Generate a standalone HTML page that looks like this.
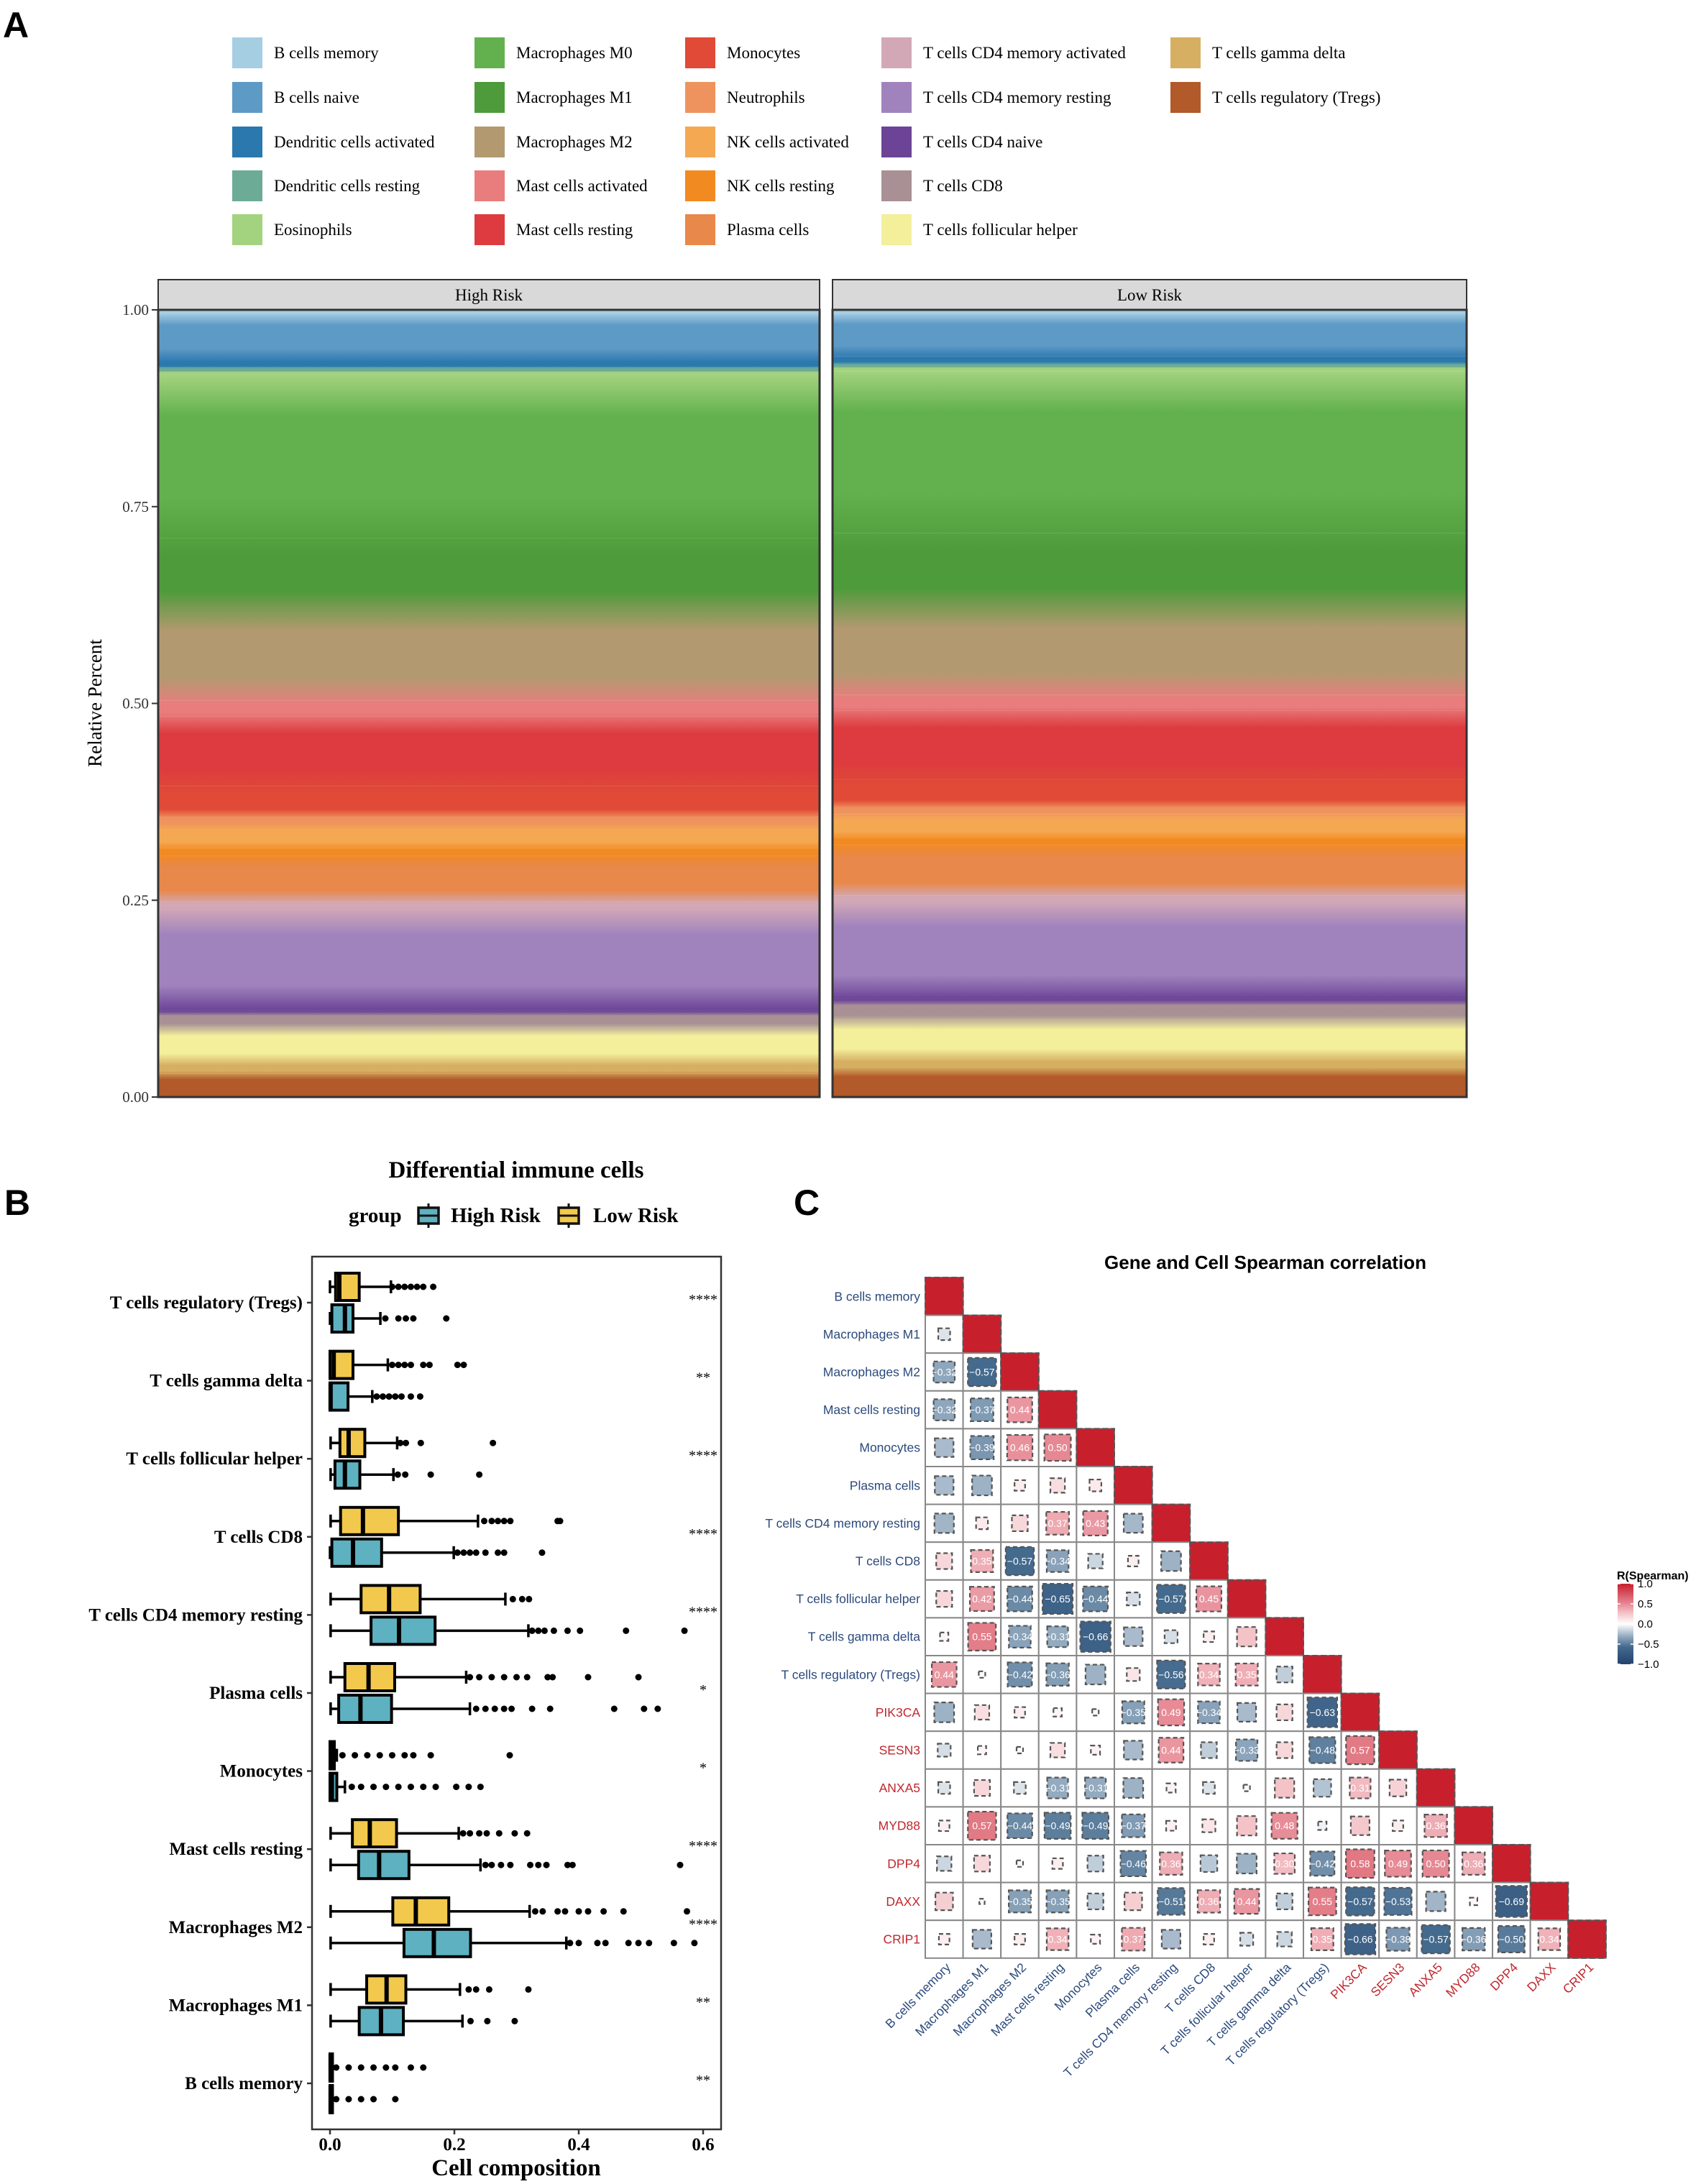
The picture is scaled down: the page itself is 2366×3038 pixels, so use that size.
<!DOCTYPE html>
<html><head><meta charset="utf-8"><style>
html,body{margin:0;padding:0;background:#fff}
svg{display:block}
.serif{font-family:"Liberation Serif",serif}
.sans{font-family:"Liberation Sans",sans-serif}
</style></head><body>
<svg id="fig" width="2366" height="3038" viewBox="0 0 2366 3038" xmlns="http://www.w3.org/2000/svg">
<defs id="gdefs"></defs>
<text x="4" y="52" class="sans" font-size="50" font-weight="bold">A</text>
<text x="6" y="1690" class="sans" font-size="50" font-weight="bold">B</text>
<text x="1104" y="1690" class="sans" font-size="50" font-weight="bold">C</text>
<g id="pa"></g>
<g id="pb"></g>
<g id="pc"></g>
</svg>
<script>
// ---------- Panel A data ----------
const cellTypes = ["B cells memory","B cells naive","Dendritic cells activated","Dendritic cells resting","Eosinophils","Macrophages M0","Macrophages M1","Macrophages M2","Mast cells activated","Mast cells resting","Monocytes","Neutrophils","NK cells activated","NK cells resting","Plasma cells","T cells CD4 memory activated","T cells CD4 memory resting","T cells CD4 naive","T cells CD8","T cells follicular helper","T cells gamma delta","T cells regulatory (Tregs)"];
const cellColors = ["#A6CEE3","#5E9AC6","#2A78AE","#6CAB96","#A4D37F","#62B14E","#4D9B3A","#B39970","#E97D7D","#DD3B3F","#E04A36","#EF935E","#F5A852","#F28A22","#E8884A","#D3A8B6","#A083BD","#6B4397","#A89095","#F3EF9B","#D7AF63","#B25A2A"];
const groups = ["High Risk","Low Risk"];
const highRiskMean = [0.005,0.06,0.01,0.005,0.005,0.21,0.09,0.12,0.02,0.09,0.04,0.01,0.03,0.01,0.06,0.01,0.13,0.002,0.02,0.045,0.015,0.03];
const lowRiskMean  = [0.005,0.055,0.01,0.005,0.005,0.21,0.095,0.115,0.02,0.09,0.035,0.01,0.03,0.01,0.065,0.01,0.125,0.002,0.025,0.05,0.015,0.035];
const yTicksA = [0,0.25,0.5,0.75,1];

// ---------- Panel B data ----------
const bCats = ["T cells regulatory (Tregs)","T cells gamma delta","T cells follicular helper","T cells CD8","T cells CD4 memory resting","Plasma cells","Monocytes","Mast cells resting","Macrophages M2","Macrophages M1","B cells memory"];
const bSig = ["****","**","****","****","****","*","*","****","****","**","**"];
// [whiskerLow, q1, median, q3, whiskerHigh]
const lowStats = [[0,.009,.015,.047,.098],[0,0,.006,.037,.093],[.001,.016,.030,.056,.108],[.001,.017,.053,.110,.238],[.001,.05,.095,.145,.282],[.001,.024,.062,.104,.219],[0,0,.002,.007,.011],[.001,.036,.064,.107,.207],[.001,.101,.138,.191,.321],[.001,.059,.091,.122,.209],[0,0,.001,.004,.004]];
const highStats = [[0,.003,.024,.037,.081],[0,0,.001,.029,.068],[.001,.008,.024,.048,.102],[0,.003,.037,.083,.199],[.001,.066,.111,.169,.319],[.001,.014,.049,.099,.225],[0,0,.003,.011,.024],[.001,.046,.079,.127,.242],[.001,.119,.167,.226,.38],[.001,.047,.082,.118,.213],[0,0,.001,.004,.004]];
const lowOut = [[.10,.11,.12,.13,.14,.15,.166],[.10,.11,.12,.13,.15,.16,.205,.215],[.113,.122,.146,.262],[.248,.26,.27,.28,.29,.366,.37],[.294,.309,.32],[.225,.24,.26,.28,.30,.317,.35,.358,.415,.496],[.02,.04,.06,.08,.10,.12,.134,.162,.289],[.214,.225,.24,.252,.272,.297,.317],[.33,.342,.366,.378,.40,.415,.44,.472,.574],[.223,.235,.256,.319],[.01,.03,.05,.07,.09,.105,.13,.15]];
const highOut = [[.089,.11,.122,.134,.187],[.075,.085,.095,.105,.115,.13,.145],[.109,.121,.162,.24],[.205,.215,.225,.235,.25,.27,.28,.341],[.325,.335,.345,.36,.382,.402,.476,.57],[.235,.25,.265,.28,.292,.325,.354,.457,.505,.527],[.035,.05,.07,.09,.11,.13,.15,.17,.203,.223,.242],[.25,.26,.275,.29,.322,.335,.348,.382,.39,.563],[.386,.40,.43,.443,.48,.496,.513,.553,.586],[.226,.253,.297],[.01,.03,.05,.07,.105]];
const xTicksB = [0,0.2,0.4,0.6];

// ---------- Panel C data ----------
const corrLabels = ["B cells memory","Macrophages M1","Macrophages M2","Mast cells resting","Monocytes","Plasma cells","T cells CD4 memory resting","T cells CD8","T cells follicular helper","T cells gamma delta","T cells regulatory (Tregs)","PIK3CA","SESN3","ANXA5","MYD88","DPP4","DAXX","CRIP1"];
const corrRows = [
 [],
 [-0.10],
 [-0.32,-0.57],
 [-0.32,-0.37,0.44],
 [-0.25,-0.39,0.46,0.50],
 [-0.25,-0.28,0.08,0.15,0.10],
 [-0.27,0.10,0.18,0.37,0.43,-0.26],
 [0.18,0.35,-0.57,-0.34,-0.15,0.08,-0.28],
 [0.18,0.42,-0.44,-0.65,-0.44,-0.12,-0.57,0.45],
 [0.05,0.55,-0.34,-0.31,-0.66,-0.25,-0.12,0.08,0.27],
 [0.44,0.03,-0.42,-0.36,-0.28,0.12,-0.56,0.34,0.35,-0.18],
 [-0.28,0.15,0.08,0.05,0.03,-0.35,0.49,-0.34,-0.25,0.18,-0.63],
 [-0.12,0.05,0.03,0.15,0.06,-0.25,0.44,-0.18,-0.33,0.18,-0.48,0.57],
 [-0.10,0.18,-0.10,-0.31,-0.31,-0.28,0.06,-0.10,0.03,0.27,-0.22,0.31,0.20],
 [0.08,0.57,-0.44,-0.49,-0.49,-0.37,0.07,0.12,0.27,0.48,-0.05,0.25,0.08,0.36],
 [-0.15,0.18,0.03,0.08,-0.18,-0.46,0.36,-0.20,-0.28,0.30,-0.42,0.58,0.49,0.50,0.36],
 [0.22,0.02,-0.35,-0.35,-0.18,0.22,-0.51,0.36,0.44,-0.18,0.55,-0.57,-0.53,-0.27,0.04,-0.69],
 [0.08,-0.25,0.08,0.34,0.06,0.37,-0.25,0.08,-0.12,-0.15,0.35,-0.66,-0.38,-0.57,-0.36,-0.50,0.34]
];
const cbTicks = [1,0.5,0,-0.5,-1];

const NS="http://www.w3.org/2000/svg";
function mk(parent,tag,attrs,txt){const e=document.createElementNS(NS,tag);for(const k in attrs)e.setAttribute(k,attrs[k]);if(txt!==undefined)e.textContent=txt;parent.appendChild(e);return e;}
const gdefs=document.getElementById('gdefs');

// ===== Panel A =====
(function(){
 const g=document.getElementById('pa');
 const colX=[323,660,953,1226,1628], rowY=[73,135,197,258,319];
 cellTypes.forEach((t,i)=>{
  const c=Math.floor(i/5), r=i%5;
  const lg=mk(g,'g',{});
  
  
  mk(lg,'rect',{x:colX[c],y:rowY[r]-21,width:42,height:43,fill:cellColors[i]});
  mk(lg,'text',{x:colX[c]+58,y:rowY[r]+8,class:'serif','font-size':23},t);
 });
 const y0=1526,y1=431;
 const panels=[[220,1140,highRiskMean],[1158,2040,lowRiskMean]];
 panels.forEach((p,pi)=>{
  const [xl,xr,vals]=p;
  const tot=vals.reduce((a,b)=>a+b,0);
  const st=mk(g,'rect',{x:xl,y:389,width:xr-xl,height:42,fill:'#d9d9d9',stroke:'#333','stroke-width':2});
  
  
  mk(g,'text',{x:(xl+xr)/2,y:418,'text-anchor':'middle',class:'serif','font-size':23},groups[pi]);
  // blended gradient (stripes mix visually)
  const gid='stack'+pi;
  const lgd=mk(gdefs,'linearGradient',{id:gid,x1:0,y1:1,x2:0,y2:0});
  let cum=0;
  for(let i=vals.length-1;i>=0;i--){
   const a=cum/tot, b=(cum+vals[i])/tot; cum+=vals[i];
   const m=(a+b)/2, w=(b-a);
   mk(lgd,'stop',{offset:(a+w*0.25).toFixed(4),'stop-color':cellColors[i]});
   mk(lgd,'stop',{offset:(b-w*0.25).toFixed(4),'stop-color':cellColors[i]});
  }
  cum=0;
  for(let i=vals.length-1;i>=0;i--){
   const a=cum/tot, b=(cum+vals[i])/tot; cum+=vals[i];
   const ya=y0-(y0-y1)*a, yb=y0-(y0-y1)*b;
   const r=mk(g,'rect',{x:xl,y:yb,width:xr-xl,height:ya-yb,fill:'url(#'+gid+')'});
   
   
  }
  mk(g,'rect',{x:xl,y:y1,width:xr-xl,height:y0-y1,fill:'url(#'+gid+')',opacity:0});
  mk(g,'rect',{x:xl,y:y1,width:xr-xl,height:y0-y1,fill:'none',stroke:'#333','stroke-width':3});
 });
 // make segments use gradient in absolute coords
 document.querySelectorAll('#gdefs linearGradient').forEach((lgd,pi)=>{
  lgd.setAttribute('gradientUnits','userSpaceOnUse');
  lgd.setAttribute('x1',0);lgd.setAttribute('x2',0);
  lgd.setAttribute('y1',y0);lgd.setAttribute('y2',y1);
 });
 yTicksA.forEach(v=>{
  const y=y0-(y0-y1)*v;
  mk(g,'line',{x1:211,x2:220,y1:y,y2:y,stroke:'#333','stroke-width':2});
  mk(g,'text',{x:207,y:y+7,'text-anchor':'end',class:'serif','font-size':21,fill:'#333'},v.toFixed(2));
 });
 const t=mk(g,'text',{x:0,y:0,transform:'translate(141,978) rotate(-90)','text-anchor':'middle',class:'serif','font-size':27},'Relative Percent');
 
 
})();

// ===== Panel B =====
(function(){
 const g=document.getElementById('pb');
 const bx0=434,bx1=1003,by0=1748,by1=2962;
 const xs=v=>459+v*(978-459)/0.6;
 const yc=i=>1812+i*108.6;
 mk(g,'text',{x:718,y:1638,'text-anchor':'middle',class:'serif','font-size':33,'font-weight':'bold'},'Differential immune cells');
 mk(g,'text',{x:485,y:1700,class:'serif','font-size':29,'font-weight':'bold'},'group');
 const keys=[[580,'#5DB1C0','High Risk',627],[775,'#F2C94C','Low Risk',825]];
 keys.forEach(k=>{
  const kg=mk(g,'g',{});
  
  
  mk(kg,'line',{x1:k[0]+16,x2:k[0]+16,y1:1674,y2:1708,stroke:'#111','stroke-width':3});
  mk(kg,'rect',{x:k[0]+2,y:1680,width:28,height:22,fill:k[1],stroke:'#111','stroke-width':3.5});
  mk(kg,'line',{x1:k[0]+2,x2:k[0]+30,y1:1691,y2:1691,stroke:'#111','stroke-width':3});
  mk(kg,'text',{x:k[3],y:1700,class:'serif','font-size':29,'font-weight':'bold'},k[2]);
 });
 mk(g,'rect',{x:bx0,y:by0,width:bx1-bx0,height:by1-by0,fill:'none',stroke:'#333','stroke-width':2.5});
 function drawBox(st,out,cy,col){
  const bg=mk(g,'g',{});
  
  
  const [wl,q1,md,q3,wh]=st;
  mk(bg,'line',{x1:xs(wl),x2:xs(q1),y1:cy,y2:cy,stroke:'#000','stroke-width':3.5});
  mk(bg,'line',{x1:xs(q3),x2:xs(wh),y1:cy,y2:cy,stroke:'#000','stroke-width':3.5});
  mk(bg,'line',{x1:xs(wl),x2:xs(wl),y1:cy-9,y2:cy+9,stroke:'#000','stroke-width':3.5});
  mk(bg,'line',{x1:xs(wh),x2:xs(wh),y1:cy-9,y2:cy+9,stroke:'#000','stroke-width':3.5});
  mk(bg,'rect',{x:xs(q1),y:cy-19,width:Math.max(xs(q3)-xs(q1),3),height:38,fill:col,stroke:'#000','stroke-width':4});
  mk(bg,'line',{x1:xs(md),x2:xs(md),y1:cy-19,y2:cy+19,stroke:'#000','stroke-width':6});
  out.forEach(v=>{const c=mk(bg,'circle',{cx:xs(v),cy:cy,r:4.5,fill:'#000'});
   
   });
 }
 bCats.forEach((c,i)=>{
  const cy=yc(i);
  drawBox(lowStats[i],lowOut[i],cy-22,'#F2C94C');
  drawBox(highStats[i],highOut[i],cy+22,'#5DB1C0');
  mk(g,'line',{x1:427,x2:434,y1:cy,y2:cy,stroke:'#333','stroke-width':2.5});
  const l=mk(g,'text',{x:421,y:cy+8,'text-anchor':'end',class:'serif','font-size':25,'font-weight':'bold'},c);
  
  
  mk(g,'text',{x:978,y:cy+2,'text-anchor':'middle',class:'serif','font-size':20},bSig[i]);
 });
 xTicksB.forEach(v=>{
  mk(g,'line',{x1:xs(v),x2:xs(v),y1:by1,y2:by1+7,stroke:'#333','stroke-width':2.5});
  mk(g,'text',{x:xs(v),y:2991,'text-anchor':'middle',class:'serif','font-size':25,'font-weight':'bold'},v.toFixed(1));
 });
 const xt=mk(g,'text',{x:718,y:3026,'text-anchor':'middle',class:'serif','font-size':33,'font-weight':'bold'},'Cell composition');
 
 
})();

// ===== Panel C =====
(function(){
 const g=document.getElementById('pc');
 const L=1287,T=1777,C=52.6;
 const stops=[[-1,[36,65,110]],[-0.57,[68,106,142]],[-0.32,[143,167,189]],[0,[255,255,255]],[0.3,[242,188,194]],[0.45,[233,147,158]],[1,[200,31,45]]];
 function col(v){for(let i=0;i<stops.length-1;i++){const[a,ca]=stops[i],[b,cb]=stops[i+1];if(v>=a&&v<=b){const t=(v-a)/(b-a);return 'rgb('+ca.map((x,k)=>Math.round(x+(cb[k]-x)*t)).join(',')+')';}}return '#fff';}
 mk(g,'text',{x:1760,y:1765,'text-anchor':'middle',class:'sans','font-size':26,'font-weight':'bold'},'Gene and Cell Spearman correlation');
 const n=corrLabels.length;
 for(let i=0;i<n;i++){
  const isGene=i>=11, tc=isGene?'#C0272D':'#2B4A7C';
  const rl=mk(g,'text',{x:L-7,y:T+i*C+C/2+6,'text-anchor':'end',class:'sans','font-size':17.5,fill:tc},corrLabels[i]);
  
  
  const cx=L+i*C+C/2, by=T+n*C;
  const cl=mk(g,'text',{x:0,y:0,transform:'translate('+(cx+10)+','+(by+14)+') rotate(-45)','text-anchor':'end',class:'sans','font-size':17.5,fill:tc},corrLabels[i]);
  
  
  for(let j=0;j<=i;j++){
   const x=L+j*C,y=T+i*C;
   const v=(i===j)?1:corrRows[i][j];
   const cell=mk(g,'g',{});
   
   
   mk(cell,'rect',{x:x,y:y,width:C,height:C,fill:'#fff',stroke:'#888','stroke-width':2});
   if(i===j){mk(cell,'rect',{x:x,y:y,width:C,height:C,fill:'#C81F2D',stroke:'#555','stroke-width':2,'stroke-dasharray':'8,4'});continue;}
   const s=Math.min(48,52*Math.sqrt(Math.abs(v)));
   mk(cell,'rect',{x:x+C/2-s/2,y:y+C/2-s/2,width:s,height:s,fill:col(v),stroke:'#555','stroke-width':2.2,'stroke-dasharray':'6,4'});
   if(Math.abs(v)>=0.3) mk(cell,'text',{x:x+C/2,y:y+C/2+5,'text-anchor':'middle',class:'sans','font-size':14,fill:'#fff'},(v<0?'\u2212':'')+Math.abs(v).toFixed(2));
  }
 }
 const lg=mk(gdefs,'linearGradient',{id:'cbg',x1:0,y1:0,x2:0,y2:1});
 [1,0.5,0.3,0,-0.32,-0.57,-1].forEach(v=>mk(lg,'stop',{offset:((1-v)/2),'stop-color':col(v)}));
 mk(g,'text',{x:2249,y:2197,class:'sans','font-size':16,'font-weight':'bold'},'R(Spearman)');
 const cb=mk(g,'rect',{x:2250,y:2203,width:22,height:112,fill:'url(#cbg)'});
 
 
 cbTicks.forEach(v=>{
  const y=2203+(1-v)/2*112;
  mk(g,'line',{x1:2250,x2:2254,y1:y,y2:y,stroke:'#fff','stroke-width':1.5});
  mk(g,'line',{x1:2268,x2:2272,y1:y,y2:y,stroke:'#fff','stroke-width':1.5});
  mk(g,'text',{x:2278,y:y+5,class:'sans','font-size':15},(v<0?'\u2212':'')+Math.abs(v).toFixed(1));
 });
})();
</script>
</body></html>
